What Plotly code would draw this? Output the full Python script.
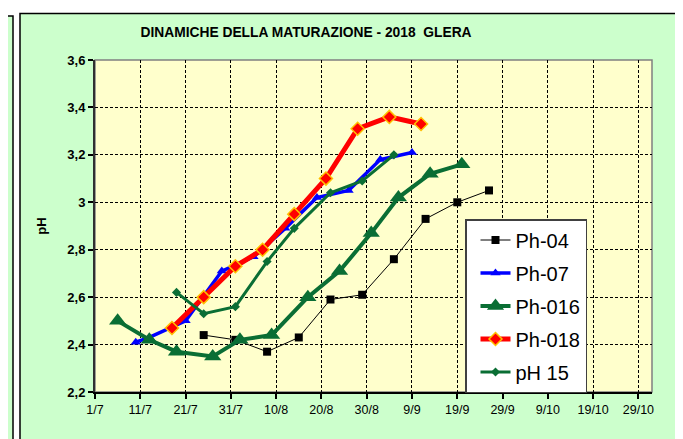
import plotly.graph_objects as go

# ---------------- data ----------------
ph04_dates = ["2018-07-25", "2018-08-01", "2018-08-08", "2018-08-15", "2018-08-22",
              "2018-08-29", "2018-09-05", "2018-09-12", "2018-09-19", "2018-09-26"]
ph04_vals = [2.44, 2.42, 2.37, 2.43, 2.59, 2.61, 2.76, 2.93, 3.00, 3.05]

ph07_dates = ["2018-07-10", "2018-07-13", "2018-07-21", "2018-07-29", "2018-08-05",
              "2018-08-12", "2018-08-19", "2018-08-26", "2018-09-02", "2018-09-09"]
ph07_vals = [2.41, 2.43, 2.50, 2.71, 2.77, 2.89, 3.02, 3.05, 3.18, 3.21]

ph016_dates = ["2018-07-06", "2018-07-13", "2018-07-19", "2018-07-27", "2018-08-02",
               "2018-08-09", "2018-08-17", "2018-08-24", "2018-08-31", "2018-09-06",
               "2018-09-13", "2018-09-20"]
ph016_vals = [2.50, 2.42, 2.37, 2.35, 2.42, 2.44, 2.60, 2.71, 2.87, 3.02, 3.12, 3.16]

ph018_dates = ["2018-07-18", "2018-07-25", "2018-08-01", "2018-08-07", "2018-08-14",
               "2018-08-21", "2018-08-28", "2018-09-04", "2018-09-11"]
ph018_vals = [2.47, 2.60, 2.73, 2.80, 2.95, 3.10, 3.31, 3.36, 3.33]

ph15_dates = ["2018-07-19", "2018-07-25", "2018-08-01", "2018-08-08", "2018-08-14",
              "2018-08-22", "2018-08-29", "2018-09-05"]
ph15_vals = [2.62, 2.53, 2.56, 2.75, 2.89, 3.04, 3.09, 3.20]

title_text = "DINAMICHE DELLA MATURAZIONE - 2018  GLERA"
y_title = "pH"

# ---------------- layout helpers ----------------
# the page body has an 8px margin, so the figure is drawn 8px in from the window edge
OFF = 8
W, H = 675, 431
ML, MT = 95 - OFF, 60 - OFF
MR = W - (652 - OFF)
MB = H - (392 - OFF)
PW, PH = W - ML - MR, H - MT - MB


def px_x(p):
    """window pixel -> paper x"""
    return (p - OFF - ML) / PW


def px_y(p):
    """window pixel -> paper y"""
    return (H - MB - (p - OFF)) / PH


GREEN = "#0A6E34"
FONT = "Liberation Sans, Arial, sans-serif"

fig = go.Figure()

fig.add_trace(go.Scatter(
    x=ph04_dates, y=ph04_vals, name="Ph-04", mode="lines+markers", legendgroup="a",
    line=dict(color="black", width=1),
    marker=dict(symbol="square", size=8, color="black")))

fig.add_trace(go.Scatter(
    x=ph07_dates, y=ph07_vals, name="Ph-07", mode="lines+markers", legendgroup="b",
    line=dict(color="#0000FF", width=3.5),
    marker=dict(symbol="triangle-up", size=9, color="#0000FF")))

fig.add_trace(go.Scatter(
    x=ph016_dates, y=ph016_vals, name="Ph-016", mode="lines+markers", legendgroup="c",
    line=dict(color=GREEN, width=4),
    marker=dict(symbol="triangle-up", size=15, color=GREEN)))

fig.add_trace(go.Scatter(
    x=ph018_dates, y=ph018_vals, name="Ph-018", mode="lines+markers", legendgroup="d",
    line=dict(color="#FF0000", width=5),
    marker=dict(symbol="diamond", size=10, color="#FF0000",
                line=dict(color="#FFC000", width=1.5))))

fig.add_trace(go.Scatter(
    x=ph15_dates, y=ph15_vals, name="pH 15", mode="lines+markers", legendgroup="e",
    line=dict(color=GREEN, width=3),
    marker=dict(symbol="diamond", size=7, color=GREEN)))

shapes = [
    # neighbouring chart strip at left
    dict(type="rect", xref="paper", yref="paper",
         x0=px_x(-10), x1=px_x(13), y0=px_y(470), y1=px_y(16),
         fillcolor="#CCFFCC", line=dict(color="black", width=1.5), layer="below"),
    # main chart area
    dict(type="rect", xref="paper", yref="paper",
         x0=px_x(20), x1=px_x(681), y0=px_y(470), y1=px_y(13.5),
         fillcolor="#CCFFCC", line=dict(color="black", width=1.5), layer="below"),
    # plot area
    dict(type="rect", xref="paper", yref="paper",
         x0=0, x1=1, y0=0, y1=1,
         fillcolor="#FFFFCC", line=dict(color="#808080", width=1.5), layer="below"),
]

fig.update_layout(
    width=W, height=H,
    margin=dict(l=ML, r=MR, t=MT, b=MB, pad=0),
    paper_bgcolor="white",
    plot_bgcolor="rgba(0,0,0,0)",
    separators=",.",
    font=dict(family=FONT, color="black"),
    shapes=shapes,
    title=dict(text="<b>" + title_text + "</b>", xref="container",
               x=(306 - OFF) / W, xanchor="center",
               y=1 - (32 - OFF) / H, yanchor="middle",
               font=dict(size=13.8, family=FONT, color="black")),
    showlegend=True,
    legend=dict(x=px_x(465), xanchor="left", y=px_y(219), yanchor="top",
                bgcolor="white", bordercolor="#404040", borderwidth=1.5,
                font=dict(size=20, family=FONT, color="black"),
                tracegroupgap=4, itemwidth=30, indentation=9),
    xaxis=dict(
        type="date",
        range=["2018-07-01", "2018-11-01"],
        tick0="2018-07-01", dtick=10 * 86400000,
        tickformat="%-d/%-m",
        showgrid=True, gridcolor="black", gridwidth=1, griddash="3px,2px",
        showline=True, linecolor="black", linewidth=2,
        ticks="outside", ticklen=5, tickcolor="black", tickwidth=1.5,
        tickfont=dict(size=12.5, family=FONT, color="black"),
        zeroline=False, fixedrange=True),
    yaxis=dict(
        range=[2.2, 3.6], tick0=2.2, dtick=0.2,
        showgrid=True, gridcolor="black", gridwidth=1, griddash="3px,2px",
        showline=True, linecolor="#303030", linewidth=2,
        ticks="outside", ticklen=5, tickcolor="black", tickwidth=1.5,
        tickfont=dict(size=13, family=FONT, color="black", weight="bold"),
        title=dict(text="<b>" + y_title + "</b>", font=dict(size=13, family=FONT),
                   standoff=18),
        zeroline=False, fixedrange=True),
)

fig.write_html("out.html")
